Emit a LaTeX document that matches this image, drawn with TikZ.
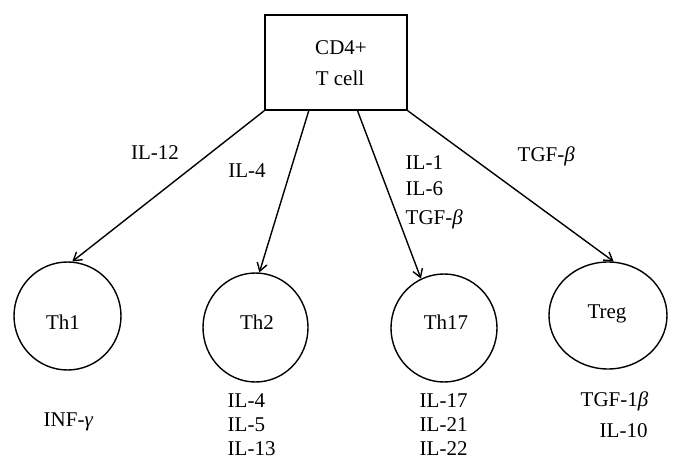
\documentclass[tikz,border=0pt]{standalone}
\usepackage{fontspec}
\setmainfont{Liberation Serif}
\usetikzlibrary{arrows.meta,shapes.geometric,calc}
\begin{document}
\begin{tikzpicture}[x=1pt,y=-1pt,
  line width=1.4pt,
  cell/.style={draw,ellipse,inner sep=0pt},
  lbl/.style={font=\fontsize{21}{25}\selectfont,inner sep=0pt},
  arr/.style={-{Straight Barb[length=8pt,width=10pt]}}]
\useasboundingbox (0,0) rectangle (681,468);
% top box
\node[draw,minimum width=142pt,minimum height=95pt,inner sep=0pt] (cd4) at (336,62.5) {};
\node[lbl,anchor=base] (cd4a) at (341,55) {CD4+};
\node[lbl,anchor=base] (cd4b) at (340,86) {T cell};
% cells
\node[cell,minimum width=107pt,minimum height=108pt] (th1) at (67.5,316) {};
\node[cell,minimum width=105pt,minimum height=109pt] (th2) at (255.5,327.5) {};
\node[cell,minimum width=106pt,minimum height=108pt] (th17) at (444,328) {};
\node[cell,minimum width=118pt,minimum height=107pt] (treg) at (608,315.5) {};
\node[lbl,anchor=base] (th1t) at (63,329) {Th1};
\node[lbl,anchor=base] (th2t) at (257,329) {Th2};
\node[lbl,anchor=base] (th17t) at (446,329) {Th17};
\node[lbl,anchor=base] (tregt) at (607,319) {Treg};
% connectors
\coordinate (s1) at (cd4.south west);
\coordinate (s2) at ($(cd4.south west)!0.31!(cd4.south east)$);
\coordinate (s3) at ($(cd4.south west)!0.65!(cd4.south east)$);
\coordinate (s4) at (cd4.south east);
\draw[arr] (s1) -- (th1.85);
\draw[arr] (s2) -- (th2.86);
\draw[arr] (s3) -- (th17.115);
\draw[arr] (s4) -- (treg.84);
% inducing cytokines
\node[lbl,anchor=base] (l1) at (155,160) {IL-12};
\node[lbl,anchor=base] (l2) at (247,178) {IL-4};
\node[lbl,anchor=base west] (l3a) at (405,170) {IL-1};
\node[lbl,anchor=base west] (l3b) at (405,196) {IL-6};
\node[lbl,anchor=base west] (l3c) at (405,225) {TGF-\textit{β}};
\node[lbl,anchor=base west] (l4) at (517,162) {TGF-\textit{β}};
% products
\node[lbl,anchor=base west] (p1) at (43,426) {INF-\textit{γ}};
\node[lbl,anchor=base west] (p2a) at (227,407) {IL-4};
\node[lbl,anchor=base west] (p2b) at (227,431) {IL-5};
\node[lbl,anchor=base west] (p2c) at (227,455) {IL-13};
\node[lbl,anchor=base west] (p3a) at (419,407) {IL-17};
\node[lbl,anchor=base west] (p3b) at (419,431) {IL-21};
\node[lbl,anchor=base west] (p3c) at (419,455) {IL-22};
\node[lbl,anchor=base west] (p4a) at (580,406) {TGF-1\textit{β}};
\node[lbl,anchor=base west] (p4b) at (599,437) {IL-10};
\end{tikzpicture}
\end{document}
